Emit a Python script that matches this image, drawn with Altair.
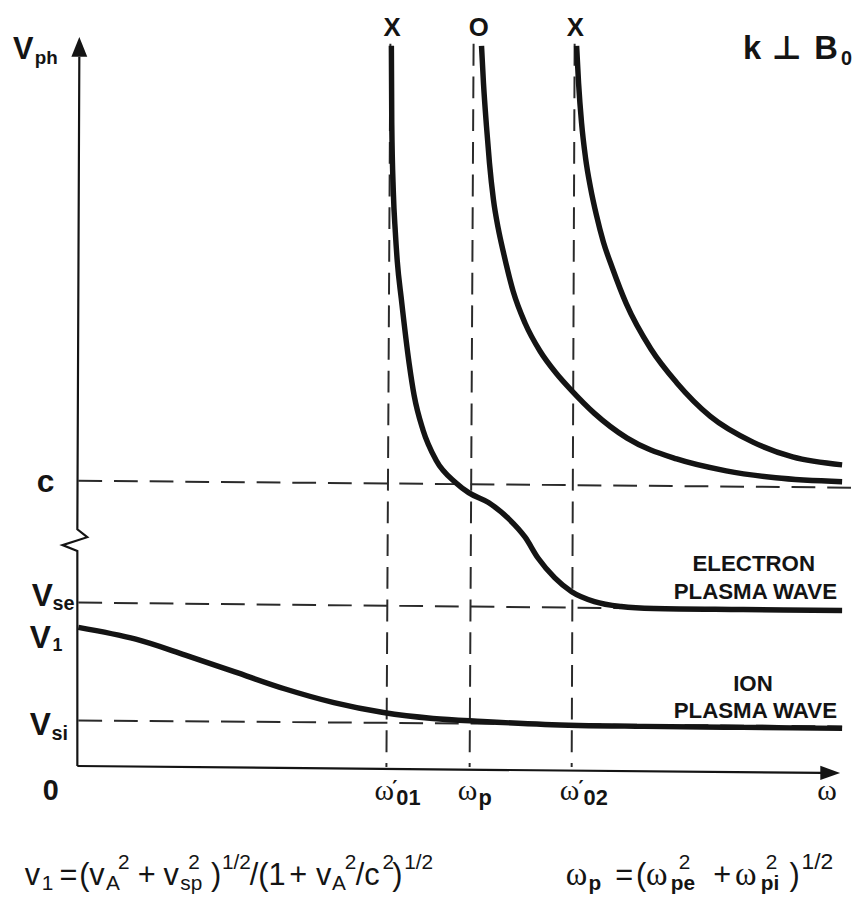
import altair as alt
import pandas as pd

# ---------------- data (ω along x, V_ph along y, diagram units) ----------------
# X-mode lower branch (cut-off at ω'01, becomes electron plasma wave)
x1_w = [316, 316.4, 318, 320, 322, 326, 334, 339, 348, 361, 381, 394, 414, 434, 451, 464, 481, 498, 521, 548, 581, 671, 771]
x1_v = [728, 650, 580, 540, 510, 473, 407, 375, 340, 310, 287, 277, 267, 251, 232, 211, 191, 177, 167, 162, 160, 159, 158]
# O-mode branch (cut-off at ωp)
o_w = [407, 409, 412, 415, 419, 424, 429, 439, 451, 466, 482, 498, 521, 554, 604, 654, 704, 771]
o_v = [728, 690, 647, 610, 573, 543, 520, 480, 448, 420, 398, 380, 357, 332, 311, 299, 292, 288]
# X-mode upper branch (cut-off at ω'02)
x2_w = [503, 505, 508, 512, 517, 523, 530, 539, 553, 578, 604, 638, 681, 721, 771]
x2_v = [728, 690, 650, 615, 585, 557, 530, 504, 468, 422, 388, 354, 328, 313, 305]
# ion plasma wave branch
ion_w = [0, 58, 108, 158, 208, 258, 308, 358, 408, 471, 571, 671, 771]
ion_v = [141, 129, 113, 96, 79, 65, 55, 49, 46, 43, 41, 40, 39]

# reference levels (horizontal dashed lines): c, Vse, Vsi
h_names = ["c", "Vse", "Vsi"]
h_w1 = [0, 0, 0]
h_w2 = [782, 681, 771]
h_v1 = [289, 166, 47]
h_v2 = [282, 159, 41]
# reference frequencies (vertical dashed lines): ω'01, ωp, ω'02
f_names = ["w01", "wp", "w02"]
f_top_w = [315, 399, 501]
f_bot_w = [311, 395, 498]
f_top_v = [730, 730, 730]
f_bot_v = [0, 0, 0]

# axes (vertical axis with break zig-zag, horizontal axis)
yaxis_w = [1, -1, 9, -16, -1, -1]
yaxis_v = [717, 240, 232, 224, 218, 1]
xaxis_w = [-1, 751]
xaxis_v = [1, -6]

# ---------------- layout ----------------
W, H = 853, 887
W_MIN, W_MAX = -71, 782
V_MAX = 762
V_MIN = 770 - (8 + H)

xs = alt.Scale(domain=[W_MIN, W_MAX], nice=False, zero=False)
ys = alt.Scale(domain=[V_MIN, V_MAX], nice=False, zero=False)
INK = "#141414"


def X(f):
    return alt.X(f, type="quantitative", scale=xs, axis=None)


def Y(f):
    return alt.Y(f, type="quantitative", scale=ys, axis=None)


rows = []
for name, ws, vs in [("X1", x1_w, x1_v), ("O", o_w, o_v), ("X2", x2_w, x2_v), ("ion", ion_w, ion_v)]:
    for i, (w, v) in enumerate(zip(ws, vs)):
        rows.append({"branch": name, "i": i, "w": w, "v": v})
curves_df = pd.DataFrame(rows)

curves = alt.Chart(curves_df).mark_line(
    interpolate="monotone", strokeWidth=5.5, color=INK, strokeCap="butt"
).encode(x=X("w"), y=Y("v"), detail="branch:N", order="i:Q")

yaxis_df = pd.DataFrame({"w": yaxis_w, "v": yaxis_v, "i": list(range(len(yaxis_w)))})
yaxis = alt.Chart(yaxis_df).mark_line(strokeWidth=2.2, color=INK, strokeJoin="miter").encode(
    x=X("w"), y=Y("v"), order="i:Q")
xaxis_df = pd.DataFrame({"w": [xaxis_w[0]], "w2": [xaxis_w[1]], "v": [xaxis_v[0]], "v2": [xaxis_v[1]]})
xaxis = alt.Chart(xaxis_df).mark_rule(strokeWidth=2.2, color=INK).encode(
    x=X("w"), x2="w2", y=Y("v"), y2="v2")

arrow_up = alt.Chart(pd.DataFrame({"w": [yaxis_w[0]], "v": [yaxis_v[0]]})).mark_point(
    shape="M0,-1L0.4,0L-0.4,0Z", size=1600, filled=True, color=INK, opacity=1, strokeWidth=0
).encode(x=X("w"), y=Y("v"))
arrow_right = alt.Chart(pd.DataFrame({"w": [xaxis_w[1] - 2], "v": [xaxis_v[1]]})).mark_point(
    shape="M1,0L0,-0.36L0,0.36Z", size=1600, filled=True, color=INK, opacity=1, strokeWidth=0
).encode(x=X("w"), y=Y("v"))

hdf = pd.DataFrame({"name": h_names, "w": h_w1, "w2": h_w2, "v": h_v1, "v2": h_v2})
vdf = pd.DataFrame({"name": f_names, "w": f_top_w, "w2": f_bot_w, "v": f_top_v, "v2": f_bot_v})
dash_h = alt.Chart(hdf).mark_rule(strokeDash=[24, 12], strokeWidth=2, color="#2a2a2a").encode(
    x=X("w"), x2="w2", y=Y("v"), y2="v2")
dash_v = alt.Chart(vdf).mark_rule(strokeDash=[22, 11], strokeWidth=2, color="#2a2a2a").encode(
    x=X("w"), x2="w2", y=Y("v"), y2="v2")

# ---------------- text ----------------
bold_txt = [
    ("V", -66, 715, 31), ("ph", -44, 710, 19),
    ("X", 308, 738, 26), ("O", 394, 738, 26), ("X", 493, 738, 26),
    ("k", 671, 715, 33), ("B", 743, 715, 33), ("0", 770, 709, 20),
    ("c", -42, 278, 32),
    ("V", -47, 163, 32), ("se", -26, 158, 20),
    ("V", -49, 120, 32), ("1", -26, 117, 18),
    ("V", -49, 32, 32), ("si", -27, 27, 20),
    ("0", -36, -33, 29),
    ("01", 321, -38, 22), ("p", 404, -38, 22), ("02", 510, -38, 22),
    ("ELECTRON", 620, 198, 22.5), ("PLASMA WAVE", 601, 170, 22.5),
    ("ION", 661, 77, 22.5), ("PLASMA WAVE", 601, 49, 22.5),
    ("p", 515, -124, 21), ("pe", 598, -124, 21), ("pi", 689, -124, 21),
]
serif_txt = [
    ("ω", 299, -33, 30), ("ω", 383, -33, 30), ("ω", 486, -33, 30), ("ω", 746, -33, 30),
    ("ω", 492, -119, 33), ("ω", 573, -119, 33), ("ω", 663, -119, 33),
]
symbol_txt = [
    ("⊥", 700, 715, 33), ("′", 317, -27, 20), ("′", 505, -27, 20),
]
regular_txt = [
    ("v", -54, -119, 31), ("1", -37, -124, 21), ("=", -19, -119, 31), ("(", 1, -119, 31),
    ("v", 11, -119, 31), ("A", 28, -124, 21), ("2", 40, -103, 21), ("+", 60, -119, 31),
    ("v", 86, -119, 31), ("sp", 103, -124, 21), ("2", 111, -103, 21), (")", 134, -119, 31),
    ("1/2", 145, -103, 21), ("/(", 173, -119, 31), ("1", 192, -119, 31), ("+", 213, -119, 31),
    ("v", 240, -119, 31), ("A", 256, -124, 21), ("2", 269, -103, 21), ("/c", 280, -119, 31),
    ("2", 307, -103, 21), (")", 317, -119, 31), ("1/2", 329, -103, 21),
    ("=", 542, -119, 31), ("(", 563, -119, 31), ("2", 606, -103, 21), ("+", 641, -119, 31),
    ("2", 694, -103, 21), (")", 718, -119, 31), ("1/2", 730, -103, 23),
]


def text_layer(items, font, weight):
    df = pd.DataFrame(items, columns=["t", "w", "v", "s"])
    return alt.Chart(df).mark_text(
        font=font, fontWeight=weight, align="left", baseline="alphabetic", color=INK
    ).encode(x=X("w"), y=Y("v"), text="t:N", size=alt.Size("s:Q", scale=None))


texts = [
    text_layer(bold_txt, "Liberation Sans", "bold"),
    text_layer(serif_txt, "Liberation Serif", "normal"),
    text_layer(symbol_txt, "DejaVu Sans", "bold"),
    text_layer(regular_txt, "Liberation Sans", "normal"),
]

chart = alt.layer(
    dash_h, dash_v, yaxis, xaxis, arrow_up, arrow_right, curves, *texts
).properties(
    width=W, height=H, padding=0, autosize=alt.AutoSizeParams(type="none"), background="white"
).configure_view(stroke=None)

chart.save("out.html", embed_options={"renderer": "svg", "actions": False})
